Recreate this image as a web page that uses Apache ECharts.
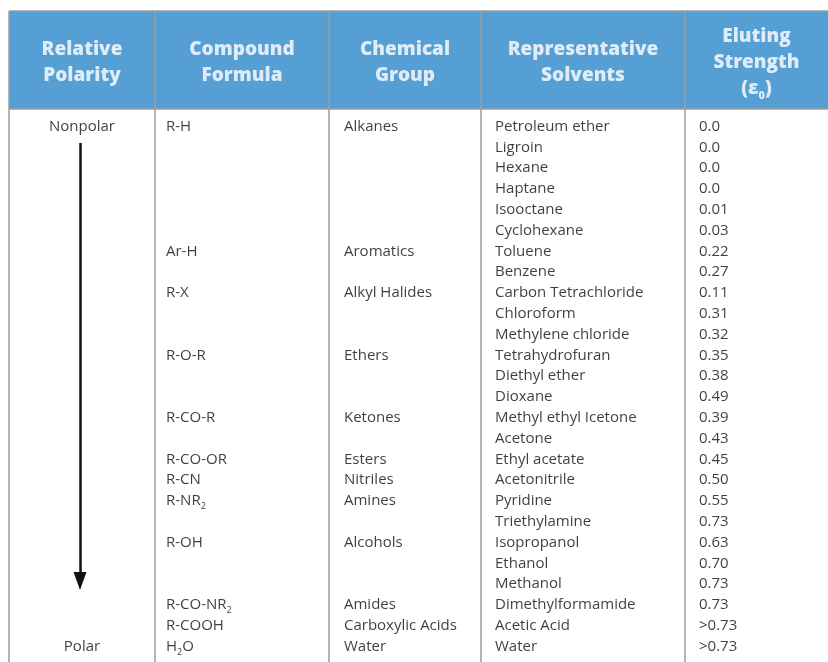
<!DOCTYPE html>
<html>
<head>
<meta charset="utf-8">
<script src="https://cdn.jsdelivr.net/npm/echarts@6/dist/echarts.min.js"></script>
<style>
  html, body { margin: 0; padding: 0; background: #fff; }
  #chart { width: 828px; height: 662px; }
</style>
</head>
<body>
<div id="chart"></div>
<script>
// table content, one entry per body row ('' = empty cell), "_2" = subscript 2
const headers = [
  'Relative\nPolarity',
  'Compound\nFormula',
  'Chemical\nGroup',
  'Representative\nSolvents',
  'Eluting\nStrength\n(ε_0)'
];
const polarity = ['Nonpolar', '', '', '', '', '', '', '', '', '', '', '', '', '', '', '', '', '', '', '', '', '', '', '', '', 'Polar'];
const formulas = ['R-H', '', '', '', '', '', 'Ar-H', '', 'R-X', '', '', 'R-O-R', '', '', 'R-CO-R', '', 'R-CO-OR', 'R-CN', 'R-NR_2', '', 'R-OH', '', '', 'R-CO-NR_2', 'R-COOH', 'H_2O'];
const groups = ['Alkanes', '', '', '', '', '', 'Aromatics', '', 'Alkyl Halides', '', '', 'Ethers', '', '', 'Ketones', '', 'Esters', 'Nitriles', 'Amines', '', 'Alcohols', '', '', 'Amides', 'Carboxylic Acids', 'Water'];
const solvents = ['Petroleum ether', 'Ligroin', 'Hexane', 'Haptane', 'Isooctane', 'Cyclohexane', 'Toluene', 'Benzene',
  'Carbon Tetrachloride', 'Chloroform', 'Methylene chloride', 'Tetrahydrofuran', 'Diethyl ether', 'Dioxane',
  'Methyl ethyl Icetone', 'Acetone', 'Ethyl acetate', 'Acetonitrile', 'Pyridine', 'Triethylamine',
  'Isopropanol', 'Ethanol', 'Methanol', 'Dimethylformamide', 'Acetic Acid', 'Water'];
const strength = ['0.0', '0.0', '0.0', '0.0', '0.01', '0.03', '0.22', '0.27', '0.11', '0.31', '0.32', '0.35', '0.38', '0.49',
  '0.39', '0.43', '0.45', '0.50', '0.55', '0.73', '0.63', '0.70', '0.73', '0.73', '>0.73', '>0.73'];

// layout (grid units = pixels inside the table frame)
const W = 819, H = 651;
const colEdges = [0, 146, 320, 472, 676, W];
const headerH = 98;
const firstRow = 115.5, rowH = 20.8;
const textX = [73, 157, 335, 486, 690];
const borderColor = '#9c9c9c';
const textColor = '#0f0d0e';
const FONT = '"Open Sans", sans-serif';

const rowY = i => firstRow + i * rowH;
const sub = s => s.replace(/_(\d)/g, '{s|$1}');

function cellSeries(col, values, centered) {
  return {
    type: 'scatter',
    symbolSize: 0,
    silent: true,
    data: values.map((v, i) => [textX[col], rowY(i), v]).filter(d => d[2] !== ''),
    label: {
      show: true,
      position: centered ? 'inside' : 'right',
      distance: 0,
      color: textColor,
      fontFamily: FONT,
      fontSize: 15,
      formatter: p => sub(p.value[2]),
      rich: {
        s: { fontSize: 9, verticalAlign: 'bottom', padding: [12, 0, 0, 0], color: textColor, fontFamily: FONT }
      }
    }
  };
}

let chart = echarts.init(document.getElementById('chart'));
chart.setOption({
  animation: false,
  grid: { left: 9, top: 11, width: W, height: H },
  xAxis: { type: 'value', min: 0, max: W, show: false },
  yAxis: { type: 'value', min: 0, max: H, inverse: true, show: false },
  series: [
    {
      // header band, borders and header captions
      type: 'scatter',
      symbolSize: 0,
      silent: true,
      data: headers.map((h, c) => [(colEdges[c] + colEdges[c + 1]) / 2, headerH / 2 + 2.5, h]),
      label: {
        show: true,
        position: 'inside',
        color: '#fff',
        fontFamily: FONT,
        fontWeight: 800,
        fontSize: 19,
        lineHeight: 26,
        align: 'center',
        formatter: p => sub(p.value[2]),
        rich: {
          s: { fontSize: 11, fontWeight: 800, color: '#fff', fontFamily: FONT, verticalAlign: 'bottom', padding: [11, 0, 0, 0], lineHeight: 26 }
        }
      },
      markArea: {
        silent: true,
        itemStyle: { color: '#569fd5' },
        data: [[{ coord: [0, 0] }, { coord: [W, headerH] }]]
      },
      markLine: {
        silent: true,
        symbol: ['none', 'none'],
        label: { show: false },
        lineStyle: { color: borderColor, width: 1.5, type: 'solid' },
        data: colEdges.slice(0, -1).map(x => ({ xAxis: x }))
          .concat([{ yAxis: 0 }, { yAxis: headerH }])
      }
    },
    {
      // polarity arrow
      type: 'line',
      data: [],
      markLine: {
        silent: true,
        symbol: ['none', 'triangle'],
        symbolSize: [13, 18],
        label: { show: false },
        lineStyle: { color: '#111', width: 2.5, type: 'solid' },
        itemStyle: { color: '#111' },
        data: [[{ coord: [71, 132] }, { coord: [71, 570] }]]
      }
    },
    cellSeries(0, polarity, true),
    cellSeries(1, formulas, false),
    cellSeries(2, groups, false),
    cellSeries(3, solvents, false),
    cellSeries(4, strength, false)
  ]
});
</script>
</body>
</html>
